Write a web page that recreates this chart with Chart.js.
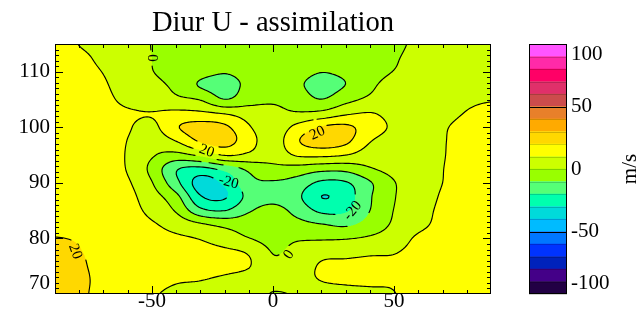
<!DOCTYPE html>
<html>
<head>
<meta charset="utf-8">
<title>Diur U - assimilation</title>
<script src="https://cdn.jsdelivr.net/npm/chart.js@4.4.1/dist/chart.umd.min.js"></script>
<style>
  html, body { margin: 0; padding: 0; background: #fff; }
  body { position: relative; width: 640px; height: 326px; overflow: hidden; }
  #field { position: absolute; left: 0; top: 0; }
  #scale { position: absolute; left: 500px; top: 0; }
</style>
</head>
<body>
<canvas id="field" width="546" height="326"></canvas>
<canvas id="scale" width="140" height="326"></canvas>
<script>
// grid of the diurnal zonal wind (m/s): columns are longitudes, one array per latitude
const lons = [-90, -80, -70, -60, -50, -40, -30, -20, -10, 0, 10, 20, 30, 40, 50, 60, 70, 80, 90];
const lats = [115, 112.5, 110, 107.5, 105, 102.5, 100, 97.5, 95, 92.5, 90, 87.5, 85, 82.5, 80, 77.5, 75, 72.5, 70];

const u115   = [14, 9.8, 7, 3.5, -0.2, -3, -5, -6, -6, -5, -5, -6, -5, -3, -1.5, 1.5, 4, 6, 7];
const u112p5 = [15, 12, 8, 4, 0, -3, -6, -7.5, -6, -5, -6, -7.5, -6, -3.5, -0.8, 2.5, 4.5, 6, 7];
const u110   = [16, 13, 9.7, 5, 0.3, -3, -7, -9.5, -7, -5, -7, -9.8, -8, -4, 0.3, 3, 5, 6.5, 7.5];
const u107p5 = [17, 14, 11, 6, 2.5, -2, -10.8, -13.5, -8, -6, -8.5, -13.5, -9.8, -2, 4, 5, 6, 7, 8];
const u105   = [17, 15, 12, 8, 5, 2, -0.5, -9.8, -4, -1.5, -4.5, -9.8, -3, 2, 5, 7, 8, 9, 9.7];
const u102p5 = [17.5, 16, 13, 11, 10.3, 12.5, 12, 9.5, 5.5, 2.5, 1, 3, 8.5, 10.5, 7, 6.5, 8, 10.3, 11.5];
const u100   = [18, 16.5, 14, 10.8, 7.5, 19, 24, 22, 11, 4, 13, 21, 22, 15, 8.5, 7, 9.3, 12, 13];
const u97p5  = [18, 17, 14, 9.8, 4, 10, 21, 24, 14, 5, 19, 25, 22, 10.5, 6, 6.5, 9.5, 12.5, 14];
const u95    = [17, 16, 13.5, 9.3, 1, -3, 2, 10.5, 8, 4, 11, 12, 10, 5, 3, 5, 9.5, 13, 15];
const u92p5  = [16, 15.5, 13, 9.4, -2.8, -19, -23, -17, -8, -3, -4, -7, -7, -1, 3, 6, 9.8, 14, 16];
const u90    = [15.5, 15, 13, 11, 0.5, -17, -34, -28, -13, -11, -14, -22, -21, -11, -0.5, 5, 10, 14, 16];
const u87p5  = [15, 15, 13.5, 12.5, 4.2, -7, -29, -31, -17, -13, -18, -30.05, -25, -11, -0.5, 5, 11, 14.5, 16];
const u85    = [14.5, 15, 14, 13, 7.5, -1, -17, -20, -11, -7, -13, -22, -21, -10, 0.3, 6, 12, 15, 16];
const u82p5  = [15, 15, 14.5, 13.5, 11, 6.5, 1.5, -2.5, -4, -5, -7, -9.5, -11.5, -6, 1.5, 7.5, 12.5, 15, 16];
const u80    = [20.5, 19, 16, 15, 13, 11.5, 9.5, 5, 0.3, -3, -1, -1, -0.5, 1.5, 5, 11.5, 14, 16, 17];
const u77p5  = [23, 20.5, 17, 16, 15, 14, 13, 12, 9, -0.3, 3, 7, 7, 8.5, 9.5, 13, 15, 17, 18];
const u75    = [24, 21.5, 17, 16, 15.5, 15, 14, 13, 10.5, 1.5, 5, 11, 12.5, 13, 12, 14, 16, 18, 19];
const u72p5  = [25, 22.5, 17, 15.5, 13.5, 11, 10.2, 8, 5, 2, 6, 10.3, 11.5, 11.5, 11, 14, 16, 18, 19];
const u70    = [26, 22, 17, 14.5, 11, 8, 6, 5, 3, -0.3, 0.8, 5, 7, 8.5, 9.8, 13, 15, 17, 18];

const uRows = [u115, u112p5, u110, u107p5, u105, u102p5, u100, u97p5, u95, u92p5,
               u90, u87p5, u85, u82p5, u80, u77p5, u75, u72p5, u70];

// contour levels and the fill colour of each 10 m/s band (lowest first)
const levels = [-100, -90, -80, -70, -60, -50, -40, -30, -20, -10, 0, 10, 20, 30, 40, 50, 60, 70, 80, 90, 100];
const levelColors = [
  '#220044', '#440088', '#0022bb', '#0033ff', '#0077ff',
  '#00bbff', '#00dada', '#00ffae', '#55ff77', '#99ff00',
  '#ccff00', '#ffff00', '#ffd800', '#ffaa00', '#e8802a',
  '#cc4c4c', '#e0306a', '#ff0066', '#ff2aa8', '#ff55ff'
];

const xTicks = [-50, 0, 50];
const yTicks = [70, 80, 90, 100, 110];
const barTicks = [-100, -50, 0, 50, 100];

// labels written on the contour lines
const contourLabels = [
  { lon: -49.5, lat: 112.5, text: '0', angle: 90 },
  { lon: -27.3, lat: 95.9, text: '20', angle: 20 },
  { lon: 18.2, lat: 99.1, text: '20', angle: -25 },
  { lon: -18.2, lat: 90.3, text: '-20', angle: 15 },
  { lon: 32.6, lat: 85.1, text: '-20', angle: -50 },
  { lon: 6.2, lat: 77.2, text: '0', angle: -55 },
  { lon: -81.3, lat: 77.7, text: '20', angle: 70 }
];

const SERIF = '"Liberation Serif", "Times New Roman", serif';

function catmull(p0, p1, p2, p3, t) {
  return p1 + 0.5 * t * (p2 - p0 + t * (2 * p0 - 5 * p1 + 4 * p2 - p3 + t * (3 * (p1 - p2) + p3 - p0)));
}

// smooth value of the wind grid at any lon/lat
function uAt(lon, lat) {
  const nx = lons.length, ny = lats.length;
  let fx = (lon - lons[0]) / (lons[1] - lons[0]);
  let fy = (lats[0] - lat) / (lats[0] - lats[1]);
  fx = Math.max(0, Math.min(nx - 1.000001, fx));
  fy = Math.max(0, Math.min(ny - 1.000001, fy));
  const i = Math.floor(fx), j = Math.floor(fy);
  const tx = fx - i, ty = fy - j;
  const c = k => Math.max(0, Math.min(nx - 1, k));
  const r = [];
  for (let m = -1; m <= 2; m++) {
    const row = uRows[Math.max(0, Math.min(ny - 1, j + m))];
    r.push(catmull(row[c(i - 1)], row[c(i)], row[c(i + 1)], row[c(i + 2)], tx));
  }
  return catmull(r[0], r[1], r[2], r[3], ty);
}

function hexRgb(h) {
  return [1, 3, 5].map(k => parseInt(h.substr(k, 2), 16));
}
const bandRgb = levelColors.map(hexRgb);

function bandOf(v) {
  const k = Math.floor((v - levels[0]) / (levels[1] - levels[0]));
  return Math.max(0, Math.min(levelColors.length - 1, k));
}

// filled contours, contour lines and their labels, all placed with the chart scales
const contourPlot = {
  id: 'contourPlot',
  beforeDatasetsDraw(chart) {
    const { ctx, chartArea: a, scales: { x, y } } = chart;
    const x0 = Math.round(a.left), y0 = Math.round(a.top);
    const w = Math.round(a.right) - x0, h = Math.round(a.bottom) - y0;

    const off = document.createElement('canvas');
    off.width = w; off.height = h;
    const octx = off.getContext('2d');
    const img = octx.createImageData(w, h);
    const sub = [0.25, 0.75];
    for (let j = 0; j < h; j++) {
      const la = sub.map(s => y.getValueForPixel(y0 + j + s));
      for (let i = 0; i < w; i++) {
        let r = 0, g = 0, b = 0;
        for (const s of sub) {
          const lo = x.getValueForPixel(x0 + i + s);
          for (const lt of la) {
            const col = bandRgb[bandOf(uAt(lo, lt))];
            r += col[0]; g += col[1]; b += col[2];
          }
        }
        const k = (j * w + i) * 4;
        img.data[k] = r / 4; img.data[k + 1] = g / 4; img.data[k + 2] = b / 4; img.data[k + 3] = 255;
      }
    }
    octx.putImageData(img, 0, 0);
    ctx.drawImage(off, x0, y0);

    // contour lines by marching squares on a 2px node grid
    const step = 2;
    const nx = Math.ceil(w / step), ny = Math.ceil(h / step);
    const px = i => Math.min(x0 + i * step, x0 + w);
    const py = j => Math.min(y0 + j * step, y0 + h);
    const grid = [];
    for (let j = 0; j <= ny; j++) {
      const lt = y.getValueForPixel(py(j));
      const row = [];
      for (let i = 0; i <= nx; i++) row.push(uAt(x.getValueForPixel(px(i)), lt));
      grid.push(row);
    }
    const labelPts = contourLabels.map(l => ({ x: x.getPixelForValue(l.lon), y: y.getPixelForValue(l.lat), r: 5 + 4 * l.text.length }));
    const nearLabel = (ax, ay, bx, by) => {
      const mx = (ax + bx) / 2, my = (ay + by) / 2;
      return labelPts.some(p => Math.hypot(mx - p.x, my - p.y) < p.r);
    };

    ctx.save();
    ctx.beginPath();
    ctx.rect(x0, y0, w, h);
    ctx.clip();
    ctx.strokeStyle = '#000';
    ctx.lineWidth = 1.15;
    ctx.lineCap = 'round';
    ctx.beginPath();
    for (let li = 1; li < levels.length - 1; li++) {
      const L = levels[li];
      for (let j = 0; j < ny; j++) {
        for (let i = 0; i < nx; i++) {
          const va = grid[j][i], vb = grid[j][i + 1], vc = grid[j + 1][i + 1], vd = grid[j + 1][i];
          const idx = (va > L ? 8 : 0) | (vb > L ? 4 : 0) | (vc > L ? 2 : 0) | (vd > L ? 1 : 0);
          if (idx === 0 || idx === 15) continue;
          const xl = px(i), xr = px(i + 1), yt = py(j), yb = py(j + 1);
          const T = [xl + (xr - xl) * (L - va) / (vb - va), yt];
          const R = [xr, yt + (yb - yt) * (L - vb) / (vc - vb)];
          const B = [xl + (xr - xl) * (L - vd) / (vc - vd), yb];
          const Lf = [xl, yt + (yb - yt) * (L - va) / (vd - va)];
          const centre = (va + vb + vc + vd) / 4 > L;
          let segs;
          switch (idx) {
            case 1: case 14: segs = [[Lf, B]]; break;
            case 2: case 13: segs = [[B, R]]; break;
            case 3: case 12: segs = [[Lf, R]]; break;
            case 4: case 11: segs = [[T, R]]; break;
            case 6: case 9: segs = [[T, B]]; break;
            case 7: case 8: segs = [[T, Lf]]; break;
            case 5: segs = centre ? [[T, Lf], [B, R]] : [[T, R], [Lf, B]]; break;
            case 10: segs = centre ? [[T, R], [Lf, B]] : [[T, Lf], [B, R]]; break;
          }
          for (const [p, q] of segs) {
            if (nearLabel(p[0], p[1], q[0], q[1])) continue;
            ctx.moveTo(p[0], p[1]);
            ctx.lineTo(q[0], q[1]);
          }
        }
      }
    }
    ctx.stroke();

    ctx.fillStyle = '#000';
    ctx.font = '15px ' + SERIF;
    ctx.textAlign = 'center';
    ctx.textBaseline = 'middle';
    contourLabels.forEach((l, k) => {
      ctx.save();
      ctx.translate(labelPts[k].x, labelPts[k].y);
      ctx.rotate(l.angle * Math.PI / 180);
      ctx.fillText(l.text, 0, 1);
      ctx.restore();
    });
    ctx.restore();
  },
  afterDraw(chart) {
    const { ctx, chartArea: a, scales: { x, y } } = chart;
    const x0 = Math.round(a.left), y0 = Math.round(a.top);
    const x1 = Math.round(a.right), y1 = Math.round(a.bottom);
    ctx.save();
    ctx.strokeStyle = '#000';
    ctx.lineWidth = 1;
    ctx.beginPath();
    // IDL-style inward ticks on all four sides
    for (let v = -80; v <= 80; v += 10) {
      const p = Math.round(x.getPixelForValue(v)) + 0.5;
      const len = xTicks.includes(v) ? 8 : 4;
      ctx.moveTo(p, y1); ctx.lineTo(p, y1 - len);
      ctx.moveTo(p, y0); ctx.lineTo(p, y0 + len);
    }
    for (let v = 71; v <= 114; v++) {
      const p = Math.round(y.getPixelForValue(v)) + 0.5;
      const len = yTicks.includes(v) ? 8 : 4;
      ctx.moveTo(x0, p); ctx.lineTo(x0 + len, p);
      ctx.moveTo(x1, p); ctx.lineTo(x1 - len, p);
    }
    ctx.stroke();
    ctx.strokeRect(x0 + 0.5, y0 + 0.5, x1 - x0 - 1, y1 - y0 - 1);
    ctx.restore();
  }
};

const tickFont = { family: SERIF, size: 21, lineHeight: 1 };

new Chart(document.getElementById('field'), {
  type: 'scatter',
  data: { datasets: [{ data: [] }] },
  plugins: [contourPlot],
  options: {
    responsive: false,
    animation: false,
    events: [],
    layout: { padding: 0 },
    plugins: {
      legend: { display: false },
      tooltip: { enabled: false },
      title: {
        display: true,
        text: 'Diur U - assimilation',
        color: '#000',
        font: { family: SERIF, size: 28.6, weight: 'normal', lineHeight: 1.2 },
        padding: { top: 6, bottom: 3.68 }
      }
    },
    scales: {
      x: {
        type: 'linear', min: -90, max: 90,
        afterBuildTicks: s => { s.ticks = xTicks.map(v => ({ value: v })); },
        afterFit: s => { s.height = 32; },
        grid: { display: false, drawTicks: false, tickLength: 0 },
        border: { display: false },
        ticks: { color: '#000', font: tickFont, padding: -3, maxRotation: 0 }
      },
      y: {
        type: 'linear', min: 70, max: 115,
        afterBuildTicks: s => { s.ticks = yTicks.map(v => ({ value: v })); },
        afterFit: s => { s.width = 55; },
        grid: { display: false, drawTicks: false, tickLength: 0 },
        border: { display: false },
        ticks: {
          color: '#000', font: tickFont, padding: 5,
          callback: v => (v === yTicks[0] ? [String(v), ''] : String(v))
        }
      },
      // empty right-hand axis, same width as the left one, so the title sits centred over the plot
      yRight: {
        type: 'linear', position: 'right', min: 70, max: 115,
        afterFit: s => { s.width = 55; },
        grid: { display: false, drawTicks: false },
        border: { display: false },
        ticks: { display: false }
      }
    }
  }
});

// colour bar: one floating bar per 10 m/s band
const barFrame = {
  id: 'barFrame',
  afterDatasetsDraw(chart) {
    const { ctx, chartArea: a, scales: { y } } = chart;
    const x0 = Math.round(a.left), x1 = Math.round(a.right);
    ctx.save();
    ctx.lineWidth = 1;
    levels.forEach(v => {
      const p = Math.round(y.getPixelForValue(v)) + 0.5;
      ctx.strokeStyle = (v === 50 || v === -50) ? '#000' : 'rgba(0,0,0,0.18)';
      ctx.beginPath();
      ctx.moveTo(x0, p); ctx.lineTo(x1, p);
      ctx.stroke();
    });
    ctx.strokeStyle = '#000';
    ctx.strokeRect(x0 + 0.5, Math.round(a.top) + 0.5, x1 - x0 - 1, Math.round(a.bottom - a.top) - 1);
    ctx.fillStyle = '#000';
    ctx.font = '21px ' + SERIF;
    ctx.textAlign = 'center';
    ctx.textBaseline = 'middle';
    ctx.translate(a.right + 63, (a.top + a.bottom) / 2);
    ctx.rotate(-Math.PI / 2);
    ctx.fillText('m/s', 0, 0);
    ctx.restore();
  }
};

new Chart(document.getElementById('scale'), {
  type: 'bar',
  data: {
    labels: ['u'],
    datasets: levelColors.map((c, k) => ({
      data: [[levels[k], levels[k + 1]]],
      backgroundColor: c,
      borderWidth: 0,
      barPercentage: 1,
      categoryPercentage: 1,
      grouped: false
    }))
  },
  plugins: [barFrame],
  options: {
    responsive: false,
    animation: false,
    events: [],
    layout: { padding: { left: 29, right: 0, top: 44, bottom: 32 } },
    plugins: { legend: { display: false }, tooltip: { enabled: false } },
    scales: {
      x: { display: false },
      y: {
        position: 'right', min: -100, max: 100,
        afterBuildTicks: s => { s.ticks = barTicks.map(v => ({ value: v })); },
        afterFit: s => { s.width = 73; },
        grid: { display: false, drawTicks: false, tickLength: 0 },
        border: { display: false },
        ticks: {
          color: '#000', font: tickFont, padding: 4,
          callback: v => (v === 100 ? ['', '100'] : v === -100 ? ['-100', ''] : String(v))
        }
      }
    }
  }
});
</script>
</body>
</html>
